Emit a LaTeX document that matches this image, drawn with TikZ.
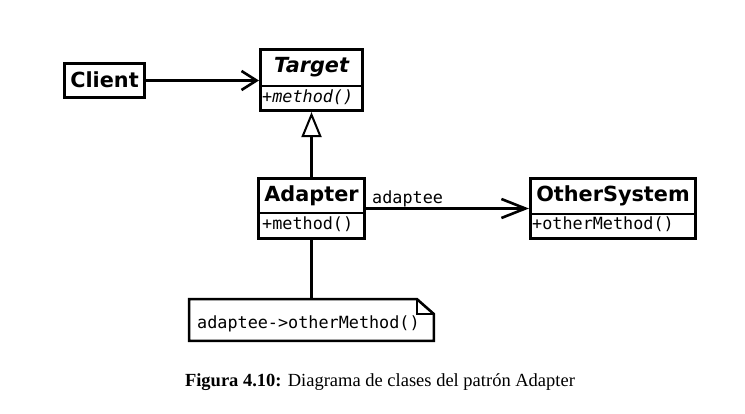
\documentclass[tikz,border=0pt]{standalone}
\usepackage{fontspec}
\setmainfont{Liberation Serif}
\newfontfamily\dvsans{DejaVu Sans}
\newfontfamily\dvmono{DejaVu Sans Mono}
\usetikzlibrary{arrows.meta}
\newcommand{\namefont}{\dvsans\bfseries\fontsize{20.8}{23}\selectfont}
\newcommand{\monof}{\dvmono\fontsize{16.8}{19}\selectfont}
\tikzset{
  ln/.style={line width=2.6pt},
  classbox/.style={draw, line width=2.6pt, rectangle, inner sep=0pt},
  cname/.style={font=\namefont, anchor=base, inner sep=0pt},
  mtext/.style={font=\monof, anchor=base west, inner sep=0pt},
  assoc/.style={ln, -{Straight Barb[length=#1,width=19pt]}},
}
\begin{document}
\begin{tikzpicture}[x=1pt,y=-1pt]
\fill[white] (0,0) rectangle (745,414);
\useasboundingbox (0,0) rectangle (745,414);
% classes
\node[classbox, minimum width=80.5pt, minimum height=34.5pt] (client) at (104.5,80.5) {};
\node[cname] (clientname) at (104.5,87.5) {Client};
\node[classbox, minimum width=102.5pt, minimum height=61.5pt] (target) at (311.5,80) {};
\draw[ln] (target.west |- 0,86) -- (target.east |- 0,86);
\node[cname] (targetname) at (311.5,73) {\itshape Target};
\node[mtext] (targetm) at (262,103) {\itshape +method()};
\node[classbox, minimum width=106.5pt, minimum height=60.5pt] (adapter) at (311.5,208.5) {};
\draw[ln] (adapter.west |- 0,213) -- (adapter.east |- 0,213);
\node[cname] (adaptername) at (311.5,202) {Adapter};
\node[mtext] (adapterm) at (262,230) {+method()};
\node[classbox, minimum width=165.5pt, minimum height=60.5pt] (other) at (613,208.5) {};
\draw[ln] (other.west |- 0,214) -- (other.east |- 0,214);
\node[cname] (othername) at (613,202) {OtherSystem};
\node[mtext] (otherm) at (532,230) {+otherMethod()};
% note
\node[minimum width=244.4pt, minimum height=41.4pt, inner sep=0pt] (note) at (311.5,320) {};
\draw[ln, line join=miter] (note.north west) -- ([xshift=-17pt]note.north east) -- ([yshift=-15pt]note.north east) -- (note.south east) -- (note.south west) -- cycle;
\draw[line width=1.6pt] ([xshift=-17pt]note.north east) -- ([xshift=-17pt,yshift=-15pt]note.north east) -- ([yshift=-15pt]note.north east);
\node[mtext] (notetext) at (197,329) {adaptee->otherMethod()};
% connectors
\draw[assoc=15pt] (client.east |- 0,80.5) -- (target.west |- 0,80.5);
\draw[assoc=24pt] (adapter.east) -- (other.west);
\node[mtext] (adapteelabel) at (372,204) {adaptee};
\draw[ln, -{Triangle[open, length=25pt, width=20pt, line width=2pt]}] (adapter.north) -- (target.south);
\draw[ln] (adapter.south) -- (note.north);
% caption
\node[anchor=base, inner sep=0pt] (caption) at (380,386) {\fontsize{18.5}{21}\selectfont\textbf{Figura 4.10:} Diagrama de clases del patrón Adapter};
\end{tikzpicture}
\end{document}
